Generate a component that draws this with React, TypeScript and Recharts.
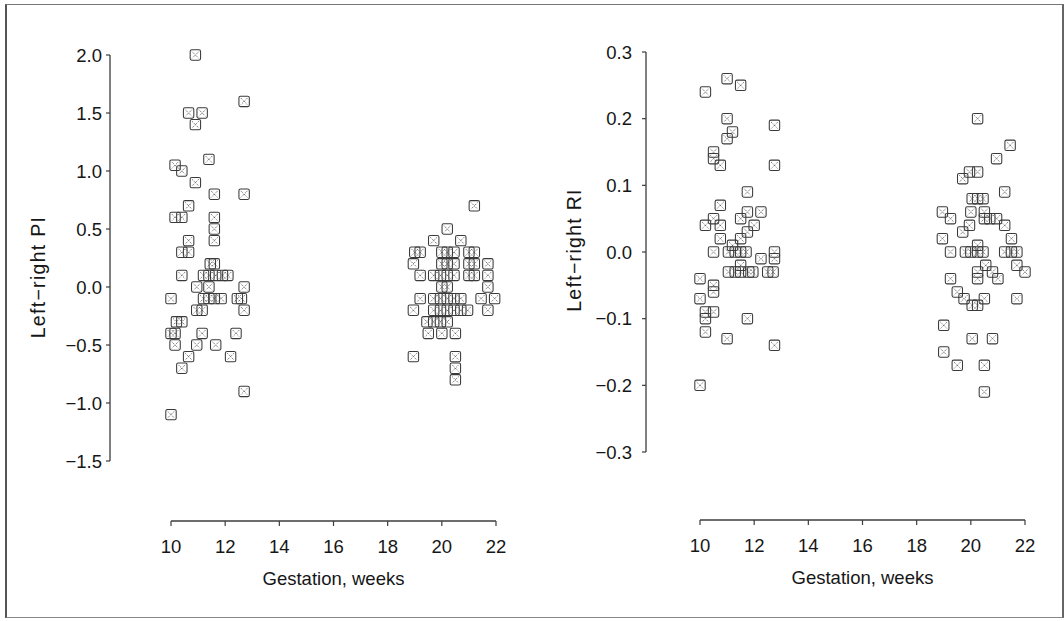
import React from 'react';
import { ScatterChart, Scatter, XAxis, YAxis, ReferenceLine } from 'recharts';

// ---- tick labels ----
const weekTicks = [10, 12, 14, 16, 18, 20, 22];
const piTicks = [-1.5, -1.0, -0.5, 0.0, 0.5, 1.0, 1.5, 2.0];
const riTicks = [-0.3, -0.2, -0.1, 0.0, 0.1, 0.2, 0.3];

// ---- Left–right PI, 10–13 weeks ----
const piEarlyWeeks = [
  10.9, 12.7, 10.65, 11.15, 10.9, 11.4, 10.15, 10.4, 10.9, 11.6, 12.7, 10.65,
  10.15, 10.4, 11.6, 11.6, 10.65, 11.6, 10.4, 10.65, 11.45, 11.6, 10.4,
  11.2, 11.4, 11.65, 11.9, 12.1, 10.95, 11.4, 12.7, 10.0, 11.2, 11.4, 11.6,
  11.85, 12.45, 12.6, 10.95, 11.15, 12.7, 10.2, 10.4, 10.0, 10.15, 11.15,
  12.4, 10.15, 10.95, 11.65, 10.65, 12.2, 10.4, 12.7, 10.0,
];
const piEarlyValues = [
  2.0, 1.6, 1.5, 1.5, 1.4, 1.1, 1.05, 1.0, 0.9, 0.8, 0.8, 0.7,
  0.6, 0.6, 0.6, 0.5, 0.4, 0.4, 0.3, 0.3, 0.2, 0.2, 0.1,
  0.1, 0.1, 0.1, 0.1, 0.1, 0.0, 0.0, 0.0, -0.1, -0.1, -0.1, -0.1,
  -0.1, -0.1, -0.1, -0.2, -0.2, -0.2, -0.3, -0.3, -0.4, -0.4, -0.4,
  -0.4, -0.5, -0.5, -0.5, -0.6, -0.6, -0.7, -0.9, -1.1,
];

// ---- Left–right PI, 19–22 weeks ----
const piLateWeeks = [
  21.2, 20.2, 19.7, 20.7,
  19.0, 19.2, 20.0, 20.2, 20.45, 21.0, 21.2,
  18.95, 20.0, 20.2, 20.45, 21.0, 21.2, 21.7,
  19.2, 19.7, 19.95, 20.2, 20.45, 21.0, 21.2, 21.7,
  20.0, 20.2, 21.7,
  19.2, 19.7, 19.95, 20.2, 20.45, 20.7, 21.45, 21.95,
  18.95, 19.7, 19.95, 20.2, 20.45, 20.7, 20.95, 21.7,
  19.45, 19.7, 19.95, 20.2,
  19.5, 20.0, 20.5,
  18.95, 20.5, 20.5, 20.5,
];
const piLateValues = [
  0.7, 0.5, 0.4, 0.4,
  0.3, 0.3, 0.3, 0.3, 0.3, 0.3, 0.3,
  0.2, 0.2, 0.2, 0.2, 0.2, 0.2, 0.2,
  0.1, 0.1, 0.1, 0.1, 0.1, 0.1, 0.1, 0.1,
  0.0, 0.0, 0.0,
  -0.1, -0.1, -0.1, -0.1, -0.1, -0.1, -0.1, -0.1,
  -0.2, -0.2, -0.2, -0.2, -0.2, -0.2, -0.2, -0.2,
  -0.3, -0.3, -0.3, -0.3,
  -0.4, -0.4, -0.4,
  -0.6, -0.6, -0.7, -0.8,
];

// ---- Left–right RI, 10–13 weeks ----
const riEarlyWeeks = [
  11.0, 11.5, 10.2, 11.0, 12.75, 11.2, 11.0, 10.5, 10.5, 10.75, 12.75,
  11.75, 10.75, 11.75, 12.25, 11.5, 10.5, 10.2, 10.75, 12.0, 11.75, 11.5,
  10.75, 11.2, 10.5, 11.05, 11.3, 11.5, 11.7, 12.75, 12.25, 12.75, 11.5,
  11.05, 11.3, 11.5, 11.8, 11.95, 12.5, 12.7, 10.0, 10.5, 10.5, 10.0,
  10.2, 10.5, 10.2, 11.75, 10.2, 11.0, 12.75, 10.0,
];
const riEarlyValues = [
  0.26, 0.25, 0.24, 0.2, 0.19, 0.18, 0.17, 0.15, 0.14, 0.13, 0.13,
  0.09, 0.07, 0.06, 0.06, 0.05, 0.05, 0.04, 0.04, 0.04, 0.03, 0.02,
  0.02, 0.01, 0.0, 0.0, 0.0, 0.0, 0.0, 0.0, -0.01, -0.01, -0.02,
  -0.03, -0.03, -0.03, -0.03, -0.03, -0.03, -0.03, -0.04, -0.05, -0.06, -0.07,
  -0.09, -0.09, -0.1, -0.1, -0.12, -0.13, -0.14, -0.2,
];

// ---- Left–right RI, 19–22 weeks ----
const riLateWeeks = [
  20.25, 21.45, 20.95, 20.25, 19.95, 19.7, 21.25, 20.05, 20.25, 20.45,
  18.95, 19.25, 20.0, 20.5, 20.5, 20.7, 20.95, 21.25, 19.95, 19.7, 18.95, 21.5,
  19.25, 19.8, 20.0, 20.25, 20.45, 21.25, 21.5, 21.7, 20.25,
  20.55, 21.7, 22.0, 19.25, 20.25, 20.25, 20.8, 21.0,
  19.5, 19.75, 20.05, 20.25, 20.5, 21.7,
  19.0, 20.05, 20.8, 19.0, 19.5, 20.5, 20.5,
];
const riLateValues = [
  0.2, 0.16, 0.14, 0.12, 0.12, 0.11, 0.09, 0.08, 0.08, 0.08,
  0.06, 0.05, 0.06, 0.06, 0.05, 0.05, 0.05, 0.04, 0.04, 0.03, 0.02, 0.02,
  0.0, 0.0, 0.0, 0.0, 0.0, 0.0, 0.0, 0.0, 0.01,
  -0.02, -0.02, -0.03, -0.04, -0.03, -0.04, -0.03, -0.04,
  -0.06, -0.07, -0.08, -0.08, -0.07, -0.07,
  -0.11, -0.13, -0.13, -0.15, -0.17, -0.17, -0.21,
];

const zip = (ws: number[], vs: number[]) => ws.map((w, i) => ({ w, v: vs[i] }));

const FONT = '"Liberation Sans", Arial, Helvetica, sans-serif';
const AXIS = '#3c3c3c';
const TEXT = '#161616';

const CrossBox = (props: any) => {
  const { cx, cy } = props;
  if (cx == null || cy == null || isNaN(cx) || isNaN(cy)) return <g />;
  const h = 5.2;
  const d = 3.3;
  return (
    <g>
      <rect
        x={cx - h}
        y={cy - h}
        width={2 * h}
        height={2 * h}
        rx={1.6}
        fill="none"
        stroke="#3a3a3a"
        strokeWidth={1.05}
      />
      <path
        d={`M${cx - d},${cy - d}L${cx + d},${cy + d}M${cx + d},${cy - d}L${cx - d},${cy + d}`}
        stroke="#4a4a4a"
        strokeWidth={0.9}
        strokeDasharray="1.1 1.1"
        fill="none"
      />
    </g>
  );
};

const fmt = (v: number) => v.toFixed(1).replace('-', '\u2212');

type PanelProps = {
  left: number;
  xMin: number;
  xMax: number;
  yMin: number;
  yMax: number;
  yTicks: number[];
  early: { w: number; v: number }[];
  late: { w: number; v: number }[];
  yTitle: string;
  yTitleCenter: number;
  margin: { top: number; right: number; bottom: number; left: number };
  yTickMargin: number;
};

const Panel = (p: PanelProps) => {
  const xTitle = (props: any) => {
    const vb = props.viewBox || { x: 0, y: 0, width: 0, height: 0 };
    const cx = vb.x + (vb.width * (16 - p.xMin)) / (p.xMax - p.xMin);
    return (
      <text
        x={cx}
        y={vb.y + 64}
        textAnchor="middle"
        fontFamily={FONT}
        fontSize={18.5}
        fill={TEXT}
      >
        Gestation, weeks
      </text>
    );
  };
  const yTitle = (props: any) => {
    const vb = props.viewBox || { x: 0, y: 0, width: 0, height: 0 };
    const bx = vb.x + vb.width - 65;
    const cy = p.yTitleCenter;
    return (
      <text
        x={bx}
        y={cy}
        transform={`rotate(-90, ${bx}, ${cy})`}
        textAnchor="middle"
        fontFamily={FONT}
        fontSize={19.5}
        letterSpacing={1.3}
        fill={TEXT}
      >
        {p.yTitle}
      </text>
    );
  };
  const lo = p.yTicks[0];
  const hi = p.yTicks[p.yTicks.length - 1];
  return (
    <div style={{ position: 'absolute', left: p.left, top: 0 }}>
      <ScatterChart width={532} height={621} margin={p.margin}>
        <XAxis
          type="number"
          dataKey="w"
          domain={[p.xMin, p.xMax]}
          ticks={weekTicks}
          interval={0}
          axisLine={false}
          tickSize={5}
          tickMargin={14}
          tickLine={{ stroke: AXIS, strokeWidth: 1.2 }}
          tick={{ fontFamily: FONT, fontSize: 18.5, fill: TEXT }}
          height={60}
          label={xTitle}
        />
        <YAxis
          type="number"
          dataKey="v"
          domain={[p.yMin, p.yMax]}
          ticks={p.yTicks}
          interval={0}
          axisLine={false}
          tickSize={4}
          tickMargin={p.yTickMargin}
          tickFormatter={fmt}
          tickLine={{ stroke: AXIS, strokeWidth: 1.2 }}
          tick={{ fontFamily: FONT, fontSize: 18.5, fill: TEXT }}
          width={60}
          label={yTitle}
        />
        <ReferenceLine
          segment={[
            { x: 10, y: p.yMin },
            { x: 22, y: p.yMin },
          ]}
          stroke={AXIS}
          strokeWidth={1.3}
          ifOverflow="visible"
        />
        <ReferenceLine
          segment={[
            { x: p.xMin, y: lo },
            { x: p.xMin, y: hi },
          ]}
          stroke={AXIS}
          strokeWidth={1.3}
          ifOverflow="visible"
        />
        <Scatter data={p.early} shape={CrossBox} isAnimationActive={false} />
        <Scatter data={p.late} shape={CrossBox} isAnimationActive={false} />
      </ScatterChart>
    </div>
  );
};

// scale helpers (pixels per unit)
const WEEK_PX = 325 / 12;
const PI_PX = 116;
const RI_PX = 666.67;

export default function App() {
  return (
    <div
      style={{
        position: 'absolute',
        left: 0,
        top: 0,
        width: 1064,
        height: 621,
        background: '#fff',
        overflow: 'hidden',
      }}
    >
      <div
        style={{
          position: 'absolute',
          left: 5,
          top: 4,
          width: 1055,
          height: 612,
          borderLeft: '2px solid #555',
          borderRight: '2px solid #666',
          borderBottom: '1px solid #888',
          borderTop: '1.5px solid #777',
        }}
      />
      <Panel
        left={0}
        xMin={10 - 61 / WEEK_PX}
        xMax={22 + 16 / WEEK_PX}
        yMin={2.0 - 466 / PI_PX}
        yMax={2.0 + 15 / PI_PX}
        yTicks={piTicks}
        early={zip(piEarlyWeeks, piEarlyValues)}
        late={zip(piLateWeeks, piLateValues)}
        yTitle={'Left\u2212right PI'}
        yTitleCenter={277}
        margin={{ top: 40, right: 20, bottom: 40, left: 50 }}
        yTickMargin={4}
      />
      <Panel
        left={532}
        xMin={10 - 54 / WEEK_PX}
        xMax={22 + 16 / WEEK_PX}
        yMin={-0.3 - 68 / RI_PX}
        yMax={0.3 + 15 / RI_PX}
        yTicks={riTicks}
        early={zip(riEarlyWeeks, riEarlyValues)}
        late={zip(riLateWeeks, riLateValues)}
        yTitle={'Left\u2212right RI'}
        yTitleCenter={250}
        margin={{ top: 37, right: 23, bottom: 41, left: 54 }}
        yTickMargin={10}
      />
    </div>
  );
}
